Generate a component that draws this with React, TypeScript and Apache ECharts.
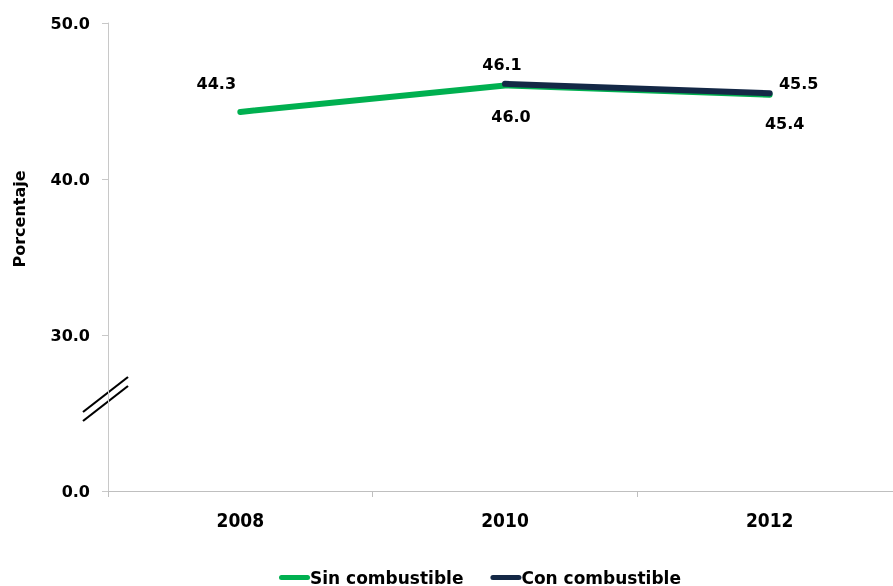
import React, { useEffect, useRef } from "react";
import * as echarts from "echarts";

const categories = ["2008", "2010", "2012"];
const sinCombustible = [44.3, 46.0, 45.4];
const conCombustible: (number | null)[] = [null, 46.1, 45.5];
const yTicks = [20, 30, 40, 50];
const yTickLabels: Record<number, string> = { 20: "0.0", 30: "30.0", 40: "40.0", 50: "50.0" };

const GREEN = "#00B050";
const NAVY = "#142846";
const FONT = "DejaVu Sans";

const greenOffsets: [number, number][] = [[-24, -28], [6, 31], [15, 29]];
const navyOffsets: [number, number][] = [[0, 0], [-3, -19], [29, -10]];

export default function App() {
  const ref = useRef<HTMLDivElement>(null);
  useEffect(() => {
    if (!ref.current) return;
    document.body.style.overflow = "hidden";
    const chart = echarts.init(ref.current, undefined, { renderer: "svg" });
    const labelStyle = {
      show: true,
      position: "inside" as const,
      fontFamily: FONT,
      fontWeight: "bold" as const,
      fontSize: 16,
      color: "#000",
      formatter: (p: any) => Number(p.value).toFixed(1),
    };
    chart.setOption({
      animation: false,
      grid: { left: 108, top: 23, height: 468, width: 794, containLabel: false },
      xAxis: {
        type: "category",
        data: categories,
        boundaryGap: true,
        axisLine: { lineStyle: { color: "#BFBFBF", width: 1 } },
        axisTick: { show: true, length: 6, lineStyle: { color: "#BFBFBF" } },
        axisLabel: {
          fontFamily: "DejaVu Sans Condensed",
          fontWeight: "bold",
          fontSize: 19,
          color: "#000",
          margin: 19,
        },
        splitLine: { show: false },
      },
      yAxis: {
        type: "value",
        min: yTicks[0],
        max: yTicks[yTicks.length - 1],
        interval: 10,
        axisLine: { show: true, lineStyle: { color: "#C8C8C8", width: 1 } },
        axisTick: { show: true, length: 6, lineStyle: { color: "#C8C8C8" } },
        axisLabel: {
          fontFamily: FONT,
          fontWeight: "bold",
          fontSize: 16,
          color: "#000",
          margin: 18,
          formatter: (v: number) => yTickLabels[v] ?? v.toFixed(1),
        },
        splitLine: { show: false },
      },
      legend: {
        left: 279,
        top: 569,
        padding: 0,
        itemWidth: 31,
        itemHeight: 5,
        itemGap: 27,
        icon: "path://M2.5,0 L28.5,0 A2.5,2.5 0 0 1 28.5,5 L2.5,5 A2.5,2.5 0 0 1 2.5,0 Z",
        textStyle: {
          fontFamily: FONT,
          fontWeight: "bold",
          fontSize: 17,
          lineHeight: 17,
          color: "#000",
          padding: [0, 0, 0, -5],
        },
        data: ["Sin combustible", "Con combustible"],
      },
      graphic: [
        {
          type: "text",
          x: 19,
          y: 219,
          rotation: Math.PI / 2,
          style: {
            text: "Porcentaje",
            fontFamily: FONT,
            fontWeight: "bold",
            fontSize: 16,
            fill: "#000",
            align: "center",
            verticalAlign: "middle",
          },
        },
        {
          type: "line",
          shape: { x1: 83, y1: 412, x2: 128, y2: 377 },
          style: { stroke: "#000", lineWidth: 2.2 },
        },
        {
          type: "line",
          shape: { x1: 83, y1: 421, x2: 128, y2: 386 },
          style: { stroke: "#000", lineWidth: 2.2 },
        },
      ],
      series: [
        {
          name: "Sin combustible",
          type: "line",
          data: sinCombustible.map((v, i) => ({
            value: v,
            label: { ...labelStyle, offset: greenOffsets[i] },
          })),
          symbol: "circle",
          symbolSize: 1,
          showSymbol: true,
          itemStyle: { color: GREEN },
          lineStyle: { color: GREEN, width: 6, cap: "round", join: "round" },
          label: labelStyle,
          z: 2,
        },
        {
          name: "Con combustible",
          type: "line",
          data: conCombustible.map((v, i) =>
            v === null ? null : { value: v, label: { ...labelStyle, offset: navyOffsets[i] } }
          ),
          symbol: "circle",
          symbolSize: 1,
          showSymbol: true,
          itemStyle: { color: NAVY },
          lineStyle: { color: NAVY, width: 6, cap: "round", join: "round" },
          label: labelStyle,
          z: 3,
        },
      ],
    });
    return () => chart.dispose();
  }, []);
  return (
    <div
      ref={ref}
      style={{ position: "fixed", left: 0, top: 0, width: 903, height: 586 }}
    />
  );
}
